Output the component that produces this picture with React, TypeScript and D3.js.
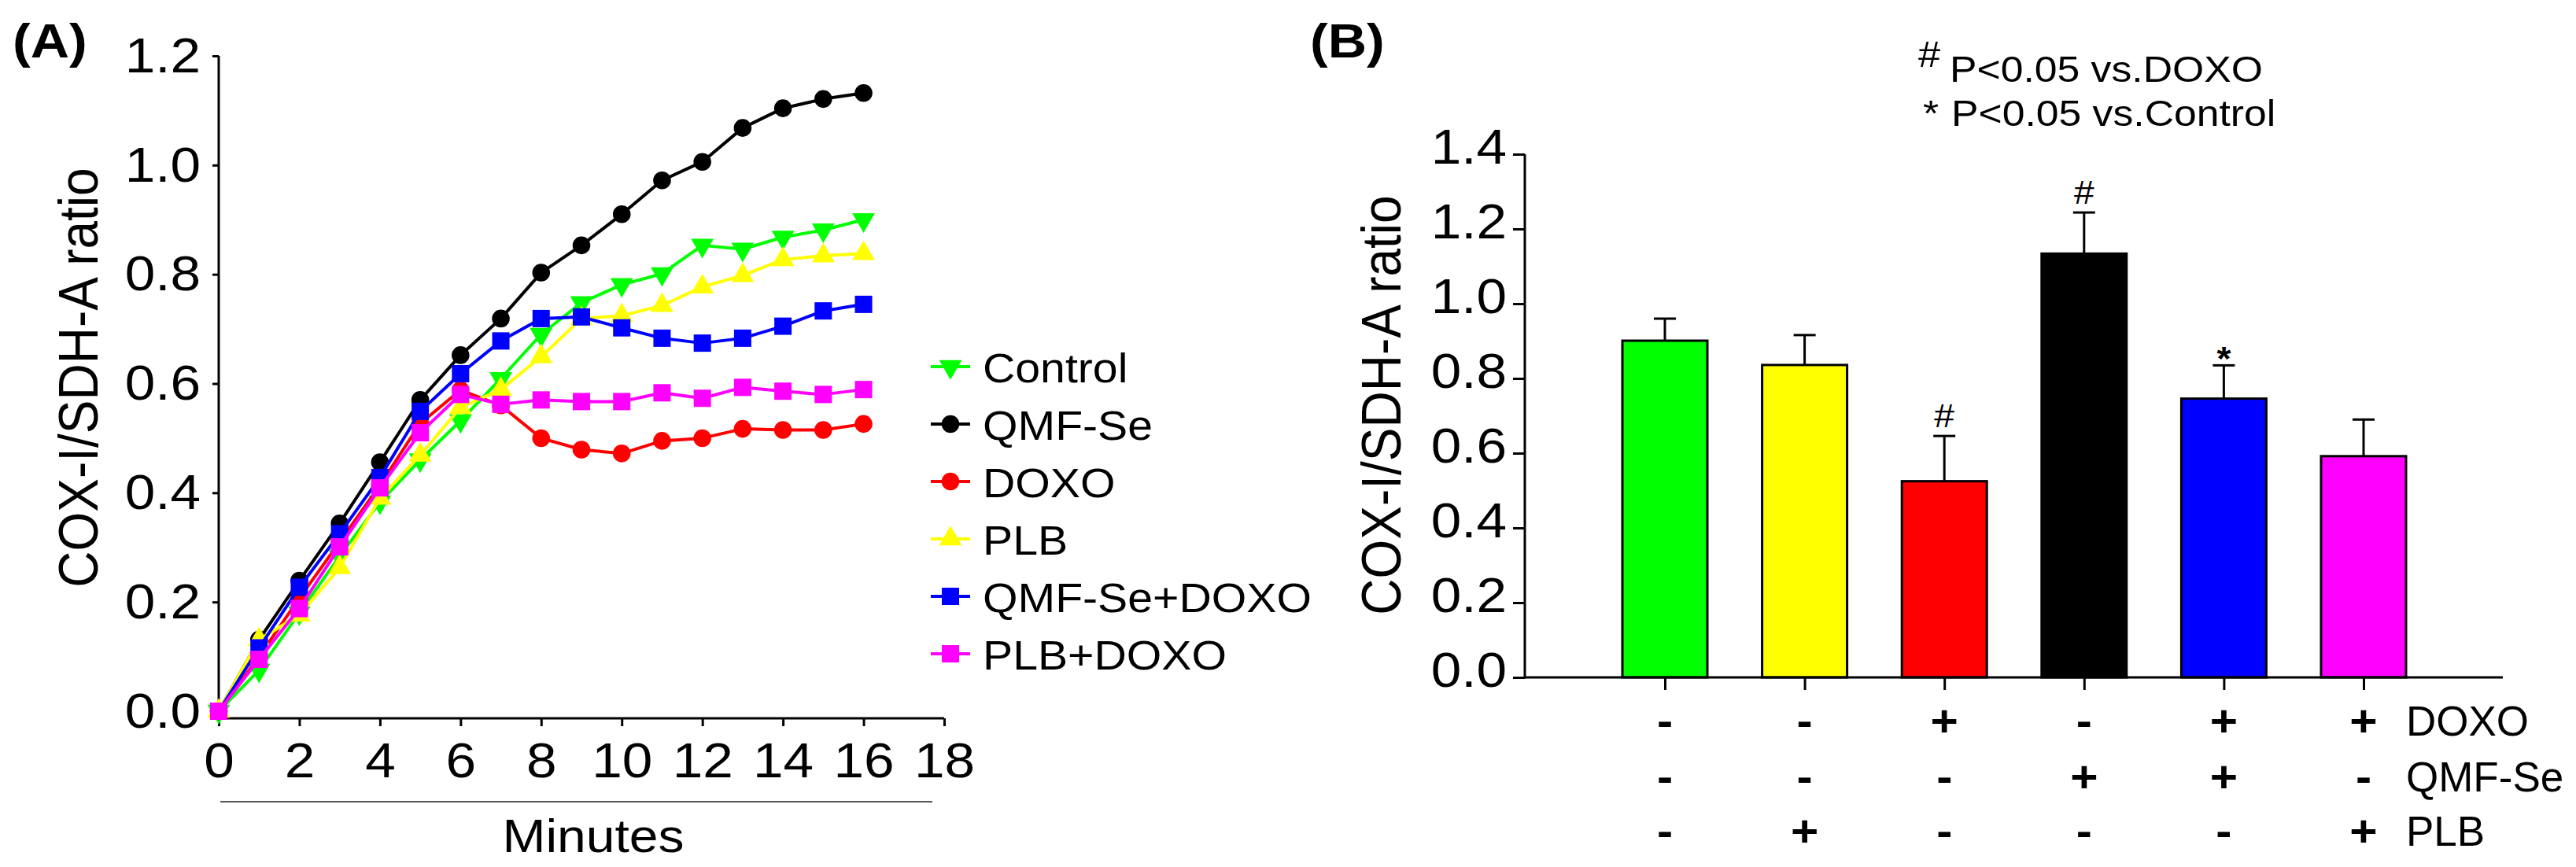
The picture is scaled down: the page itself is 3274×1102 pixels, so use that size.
import React, { useEffect, useRef } from 'react';
import * as d3 from 'd3';

// ---- panel A: time course ----
const minutes = [0, 1, 2, 3, 4, 5, 6, 7, 8, 9, 10, 11, 12, 13, 14, 15, 16];
const control = [0, 0.075, 0.18, 0.284, 0.383, 0.46, 0.532, 0.609, 0.69, 0.748, 0.781, 0.801, 0.853, 0.846, 0.868, 0.881, 0.9];
const qmfSe = [0, 0.131, 0.239, 0.344, 0.456, 0.57, 0.652, 0.719, 0.803, 0.853, 0.91, 0.972, 1.006, 1.068, 1.104, 1.121, 1.132];
const doxo = [0, 0.1, 0.207, 0.31, 0.414, 0.527, 0.588, 0.56, 0.5, 0.479, 0.472, 0.495, 0.5, 0.517, 0.515, 0.515, 0.526];
const plb = [0, 0.131, 0.176, 0.263, 0.39, 0.469, 0.556, 0.589, 0.649, 0.719, 0.724, 0.743, 0.777, 0.798, 0.827, 0.834, 0.838];
const qmfSeDoxo = [0, 0.116, 0.227, 0.325, 0.428, 0.549, 0.618, 0.678, 0.719, 0.722, 0.702, 0.683, 0.674, 0.683, 0.705, 0.733, 0.745];
const plbDoxo = [0, 0.095, 0.188, 0.301, 0.409, 0.51, 0.58, 0.562, 0.57, 0.567, 0.567, 0.583, 0.573, 0.593, 0.586, 0.58, 0.589];

const seriesNames = ['Control', 'QMF-Se', 'DOXO', 'PLB', 'QMF-Se+DOXO', 'PLB+DOXO'];
const seriesValues = [control, qmfSe, doxo, plb, qmfSeDoxo, plbDoxo];
const seriesColors = ['#00ff00', '#000000', '#ff0000', '#ffff00', '#0000ff', '#ff00ff'];
const seriesShapes = ['triDown', 'circle', 'circle', 'triUp', 'square', 'square'];

const xTicksA = [0, 2, 4, 6, 8, 10, 12, 14, 16, 18];
const yTicksA = [0, 0.2, 0.4, 0.6, 0.8, 1.0, 1.2];

// ---- panel B: bars at 16 min ----
const groups = ['Control', 'PLB', 'DOXO', 'QMF-Se', 'QMF-Se+DOXO', 'PLB+DOXO'];
const barMeans = [0.901, 0.836, 0.525, 1.134, 0.746, 0.592];
const barErrors = [0.059, 0.08, 0.121, 0.11, 0.089, 0.098];
const barColors = ['#00ff00', '#ffff00', '#ff0000', '#000000', '#0000ff', '#ff00ff'];
const barMarks = ['', '', '#', '#', '*', ''];
const yTicksB = [0, 0.2, 0.4, 0.6, 0.8, 1.0, 1.2, 1.4];

const rowNames = ['DOXO', 'QMF-Se', 'PLB'];
const doxoSigns = ['-', '-', '+', '-', '+', '+'];
const qmfSigns = ['-', '-', '-', '+', '+', '-'];
const plbSigns = ['-', '+', '-', '-', '-', '+'];
const rowSigns = [doxoSigns, qmfSigns, plbSigns];

const FONT = 'Arial, "Liberation Sans", Helvetica, sans-serif';
const SX = 1.1; // most of the source lettering is a little wide

const W = 3274;
const H = 1102;

const xA = d3.scaleLinear().domain([0, 18]).range([278, 1200]);
const yA = d3.scaleLinear().domain([0, 1.2]).range([904, 71]);
const baseA = 913;

const xB = d3.scalePoint<string>().domain(groups).range([2116, 3004]);
const yB = d3.scaleLinear().domain([0, 1.4]).range([861, 196]);
const leftB = 1938;
const rightB = 3181;
const barW = 108;

const symbolFor = (shape: string) => {
  if (shape === 'circle') return d3.symbol().type(d3.symbolCircle).size(400)();
  if (shape === 'square') return d3.symbol().type(d3.symbolSquare).size(484)();
  return d3.symbol().type(d3.symbolTriangle).size(360)();
};

const Txt = ({ x, y, size, anchor = 'start', weight = 'normal', rotate = 0, sx = SX, children }: any) => (
  <text
    transform={`translate(${x},${y}) scale(${sx},1)${rotate ? ` rotate(${rotate})` : ''}`}
    fontSize={size}
    fontFamily={FONT}
    fontWeight={weight}
    textAnchor={anchor}
    fill="#000"
  >
    {children}
  </text>
);

const Marker = ({ x, y, shape, color }: any) => (
  <path
    d={symbolFor(shape) || ''}
    transform={`translate(${x},${y})${shape === 'triDown' ? ' rotate(180)' : ''}`}
    fill={color}
  />
);

const App: React.FC = () => {
  const axAx = useRef<SVGGElement>(null);
  const axAy = useRef<SVGGElement>(null);
  const axBx = useRef<SVGGElement>(null);
  const axBy = useRef<SVGGElement>(null);

  useEffect(() => {
    const style = (g: d3.Selection<SVGGElement, unknown, null, undefined>) => {
      g.select('.domain').remove();
      g.selectAll('line').attr('stroke', '#000').attr('stroke-width', 3);
      g.selectAll('text')
        .attr('fill', '#000')
        .attr('font-family', FONT)
        .attr('font-size', 63)
        .attr('transform', `scale(${SX},1)`);
    };

    const ax = d3.select(axAx.current!);
    ax.call(d3.axisBottom(xA).tickValues(xTicksA).tickFormat(d3.format('d')).tickSize(10).tickSizeOuter(0));
    style(ax);
    ax.selectAll('text').attr('y', 75).attr('dy', 0);

    const ay = d3.select(axAy.current!);
    ay.call(d3.axisLeft(yA).tickValues(yTicksA).tickFormat(d3.format('.1f')).tickSize(8).tickSizeOuter(0));
    style(ay);
    ay.selectAll('text').attr('x', -23 / SX).attr('dy', '0.32em');

    const bx = d3.select(axBx.current!);
    bx.call(d3.axisBottom(xB).tickFormat(() => '').tickSize(16).tickSizeOuter(0));
    style(bx);

    const by = d3.select(axBy.current!);
    by.call(d3.axisLeft(yB).tickValues(yTicksB).tickFormat(d3.format('.1f')).tickSize(15).tickSizeOuter(0));
    style(by);
    by.selectAll('text').attr('x', -23 / SX).attr('dy', '0.19em');
  }, []);

  const line = d3
    .line<number>()
    .x((_, i) => xA(minutes[i]))
    .y((d) => yA(d));

  const legendTop = 466;
  const legendStep = 73;

  return (
    <svg width={W} height={H} style={{ position: 'absolute', left: 0, top: 0, background: '#fff' }}>
      <rect width={W} height={H} fill="#fff" />

      {/* ---------- panel A ---------- */}
      <Txt x={16} y={73} size={62} weight="bold">(A)</Txt>
      <Txt x={124} y={480} size={64} anchor="middle" rotate={-90}>COX-I/SDH-A ratio</Txt>

      <line x1={xA(0)} x2={xA(0)} y1={yA(1.2)} y2={baseA + 1.5} stroke="#000" strokeWidth={3} />
      <line x1={xA(0)} x2={xA(18)} y1={baseA} y2={baseA} stroke="#000" strokeWidth={3} />
      <g ref={axAx} transform={`translate(0,${baseA})`} />
      <g ref={axAy} transform={`translate(${xA(0)},0)`} />

      <line x1={280} x2={1185} y1={1019} y2={1019} stroke="#555" strokeWidth={2} />
      <Txt x={754} y={1083} size={60} anchor="middle">Minutes</Txt>

      {seriesValues.map((vals, s) => (
        <g key={seriesNames[s]}>
          <path d={line(vals) || ''} fill="none" stroke={seriesColors[s]} strokeWidth={4} strokeLinejoin="round" />
          {vals.map((v, i) => (
            <Marker key={i} x={xA(minutes[i])} y={yA(v)} shape={seriesShapes[s]} color={seriesColors[s]} />
          ))}
        </g>
      ))}

      {seriesNames.map((name, i) => {
        const y = legendTop + i * legendStep;
        return (
          <g key={name}>
            <line x1={1183} x2={1233} y1={y} y2={y} stroke={seriesColors[i]} strokeWidth={4} />
            <Marker x={1208} y={y} shape={seriesShapes[i]} color={seriesColors[i]} />
            <Txt x={1249} y={y + 20} size={52}>{name}</Txt>
          </g>
        );
      })}

      {/* ---------- panel B ---------- */}
      <Txt x={1665} y={73} size={62} weight="bold">(B)</Txt>
      <Txt x={1780} y={515} size={64} anchor="middle" rotate={-90}>COX-I/SDH-A ratio</Txt>

      <Txt x={2438} y={85} size={46}>#</Txt>
      <Txt x={2478} y={104} size={47}>P&lt;0.05 vs.DOXO</Txt>
      <Txt x={2444} y={160} size={47}>*</Txt>
      <Txt x={2480} y={160} size={47}>P&lt;0.05 vs.Control</Txt>

      {groups.map((g, i) => {
        const cx = xB(g)!;
        const top = yB(barMeans[i]);
        const cap = yB(barMeans[i] + barErrors[i]);
        return (
          <g key={g}>
            <line x1={cx} x2={cx} y1={top} y2={cap} stroke="#000" strokeWidth={3} />
            <line x1={cx - 14} x2={cx + 14} y1={cap} y2={cap} stroke="#000" strokeWidth={3} />
            <rect
              x={cx - barW / 2}
              y={top}
              width={barW}
              height={yB(0) - top}
              fill={barColors[i]}
              stroke="#000"
              strokeWidth={3}
            />
            {barMarks[i] && (
              <Txt x={cx} y={barMarks[i] === '#' ? cap - 11 : cap + 6} size={42} anchor="middle" weight={barMarks[i] === '*' ? 'bold' : 'normal'}>
                {barMarks[i]}
              </Txt>
            )}
          </g>
        );
      })}

      <line x1={leftB} x2={leftB} y1={yB(1.4)} y2={yB(0) + 1.5} stroke="#000" strokeWidth={3} />
      <line x1={leftB} x2={rightB} y1={yB(0)} y2={yB(0)} stroke="#000" strokeWidth={3} />
      <g ref={axBx} transform={`translate(0,${yB(0)})`} />
      <g ref={axBy} transform={`translate(${leftB},0)`} />

      {rowNames.map((name, r) => {
        const base = [935, 1006, 1075][r];
        return (
          <g key={name}>
            {rowSigns[r].map((s, i) => (
              <Txt key={i} x={xB(groups[i])!} y={base} size={55} anchor="middle" weight="bold">
                {s}
              </Txt>
            ))}
            <Txt x={3058} y={base} size={53} sx={1}>{name}</Txt>
          </g>
        );
      })}
    </svg>
  );
};

export default App;
